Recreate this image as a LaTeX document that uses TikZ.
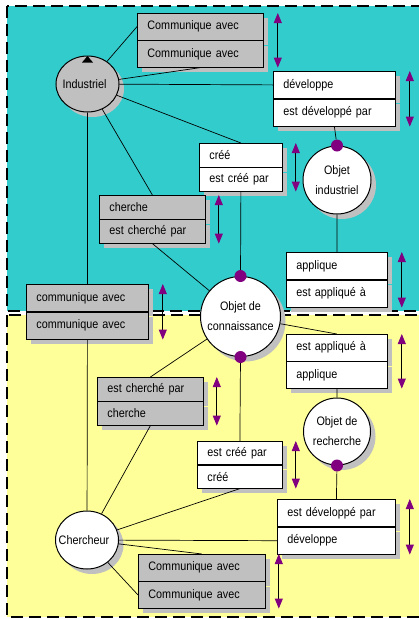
\documentclass[tikz,border=0pt]{standalone}
\usepackage{fontspec}
\setmainfont{Liberation Sans}[FakeStretch=0.88]
\usetikzlibrary{shapes.geometric,arrows.meta,positioning,shadows,calc}
\definecolor{cyanbg}{HTML}{33CCCC}
\definecolor{yellowbg}{HTML}{FFFF99}
\definecolor{greyfill}{HTML}{C0C0C0}
\definecolor{vio}{HTML}{800080}
\tikzset{
  vtip/.tip={Triangle[width=8pt,length=10pt,color=vio]},
  softshadow/.style={drop shadow={shadow xshift=5pt, shadow yshift=-5pt, fill=greyfill, opacity=1}}
}

\begin{document}
\begin{tikzpicture}[x=1pt, y=-1pt, font=\fontsize{12.3}{14}\selectfont,
    region/.style={line width=1.8pt, dash pattern=on 12pt off 6pt},
    relbox/.style={draw, line width=0.8pt, inner xsep=10pt, inner ysep=0pt, align=left, softshadow},
    greyrow/.style={relbox, fill=greyfill},
    whiterow/.style={relbox, fill=white},
    tallrow/.style={minimum height=26.5pt},
    lowrow/.style={minimum height=23.5pt},
    actor/.style={ellipse, draw, line width=1pt, inner sep=0pt, minimum width=63pt, minimum height=56pt, softshadow},
    thing/.style={circle, draw, fill=white, line width=1pt, inner sep=0pt, align=center, font=\fontsize{12.3}{20}\selectfont, softshadow},
    knob/.style={circle, fill=vio, inner sep=0pt, minimum size=12pt},
    link/.style={line width=0.7pt},
    dbl/.style={line width=0.8pt, vtip-vtip}]
    \useasboundingbox (0,0) rectangle (419,619);

    % Zones
    \draw[region, fill=cyanbg] (7,6) rectangle (423,311);
    \draw[region, fill=yellowbg] (7,315) rectangle (423,617);

    % Actors and objects
    \node[actor, fill=greyfill, label={[xshift=-3pt]center:Industriel}] (ind) at (87.5,84) {};
    \fill ($(ind.north)+(-5.5,7)$) -- ($(ind.north)+(0,0.5)$) -- ($(ind.north)+(5.5,7)$) -- cycle;
    \node[actor, fill=white, minimum height=58pt, label={[xshift=-3pt]center:Chercheur}] (cher) at (87,540) {};
    \node[thing, minimum size=68pt] (oind) at (337,180) {Objet\\industriel};
    \node[thing, minimum size=80pt] (conn) at (240.5,316.5) {Objet de\\connaissance};
    \node[thing, minimum size=67pt] (orech) at (337,431.5) {Objet de\\recherche};

    % Relations (two rows each)
    \node[greyrow, tallrow, text width=106pt, anchor=north west] (comTopA) at (137,13) {Communique avec};
    \node[greyrow, tallrow, text width=106pt, below=0pt of comTopA] (comTopB) {Communique avec};

    \node[whiterow, minimum height=27pt, text width=102pt, anchor=north west] (devTopA) at (273,71) {développe};
    \node[whiterow, minimum height=27pt, text width=102pt, below=0pt of devTopA] (devTopB) {est développé par};

    \node[whiterow, lowrow, text width=63pt, anchor=north west] (creTopA) at (199,143) {créé};
    \node[whiterow, lowrow, text width=63pt, below=0pt of creTopA] (creTopB) {est créé par};

    \node[greyrow, lowrow, text width=86pt, anchor=north west] (cheTopA) at (99,195) {cherche};
    \node[greyrow, lowrow, text width=86pt, below=0pt of cheTopA] (cheTopB) {est cherché par};

    \node[greyrow, minimum height=27pt, text width=102pt, anchor=north west] (comMidA) at (26,284) {communique avec};
    \node[greyrow, minimum height=27pt, text width=102pt, below=0pt of comMidA] (comMidB) {communique avec};

    \node[whiterow, minimum height=27pt, text width=81pt, anchor=north west] (appTopA) at (286,252) {applique};
    \node[whiterow, minimum height=27pt, text width=81pt, below=0pt of appTopA] (appTopB) {est appliqué à};

    \node[whiterow, tallrow, text width=81pt, anchor=north west] (appBotA) at (286,334) {est appliqué à};
    \node[whiterow, tallrow, text width=81pt, below=0pt of appBotA] (appBotB) {applique};

    \node[greyrow, lowrow, text width=86pt, anchor=north west] (cheBotA) at (97,377) {est cherché par};
    \node[greyrow, lowrow, text width=86pt, below=0pt of cheBotA] (cheBotB) {cherche};

    \node[whiterow, minimum height=23pt, text width=65pt, anchor=north west] (creBotA) at (197,441) {est créé par};
    \node[whiterow, minimum height=23pt, text width=65pt, below=0pt of creBotA] (creBotB) {créé};

    \node[whiterow, minimum height=27pt, text width=98pt, anchor=north west] (devBotA) at (277,499) {est développé par};
    \node[whiterow, minimum height=27pt, text width=98pt, below=0pt of devBotA] (devBotB) {développe};

    \node[greyrow, tallrow, text width=107pt, anchor=north west] (comBotA) at (138,554) {Communique avec};
    \node[greyrow, tallrow, text width=107pt, below=0pt of comBotA] (comBotB) {Communique avec};

    % Links
    \draw[link] (ind) -- (comTopA.west);
    \draw[link] (ind) -- (comTopB.south);
    \draw[link] (ind) -- (devTopA.west);
    \draw[link] (ind) -- (creTopA.north);
    \draw[link] (ind) -- (cheTopA.north);
    \draw[link] (ind) -- (comMidA.north);
    \draw[link] (comMidB.south) -- (cher);
    \draw[link] (cheTopB.south) -- (conn);
    \draw[link] (oind) -- (appTopA.north);
    \draw[link] (conn) -- (appBotA.north);
    \draw[link] (appBotB.south) -- (orech);
    \draw[link] (conn) -- (cheBotA.north);
    \draw[link] (cheBotB.south) -- (cher);
    \draw[link] (cher) -- (creBotB.south);
    \draw[link] (cher) -- (devBotB.west);
    \draw[link] (cher) -- (comBotA.north);
    \draw[link] (cher) -- (comBotB.west);

    % Anchor dots
    \node[knob] (dotOind) at (oind.north) {};
    \node[knob] (dotConnN) at (conn.north) {};
    \node[knob] (dotConnS) at (conn.south) {};
    \node[knob] (dotRech) at (orech.south) {};
    \draw[link] (devTopB.south) -- (dotOind);
    \draw[link] (creTopB.south) -- (dotConnN);
    \draw[link] (dotConnS) -- (creBotA.north);
    \draw[link] (dotRech) -- (devBotA.north);

    % Reading direction
    \draw[dbl] ([xshift=14pt]comTopA.north east) -- ([xshift=14pt]comTopB.south east);
    \draw[dbl] ([xshift=14pt]devTopA.north east) -- ([xshift=14pt]devTopB.south east);
    \draw[dbl] ([xshift=13pt]creTopA.north east) -- ([xshift=13pt]creTopB.south east);
    \draw[dbl] ([xshift=13pt]cheTopA.north east) -- ([xshift=13pt]cheTopB.south east);
    \draw[dbl] ([xshift=14pt]comMidA.north east) -- ([xshift=14pt]comMidB.south east);
    \draw[dbl] ([xshift=14pt]appTopA.north east) -- ([xshift=14pt]appTopB.south east);
    \draw[dbl] ([xshift=14pt]appBotA.north east) -- ([xshift=14pt]appBotB.south east);
    \draw[dbl] ([xshift=13pt]cheBotA.north east) -- ([xshift=13pt]cheBotB.south east);
    \draw[dbl] ([xshift=13pt]creBotA.north east) -- ([xshift=13pt]creBotB.south east);
    \draw[dbl] ([xshift=14pt]devBotA.north east) -- ([xshift=14pt]devBotB.south east);
    \draw[dbl] ([xshift=13pt]comBotA.north east) -- ([xshift=13pt]comBotB.south east);
\end{tikzpicture}
\end{document}
